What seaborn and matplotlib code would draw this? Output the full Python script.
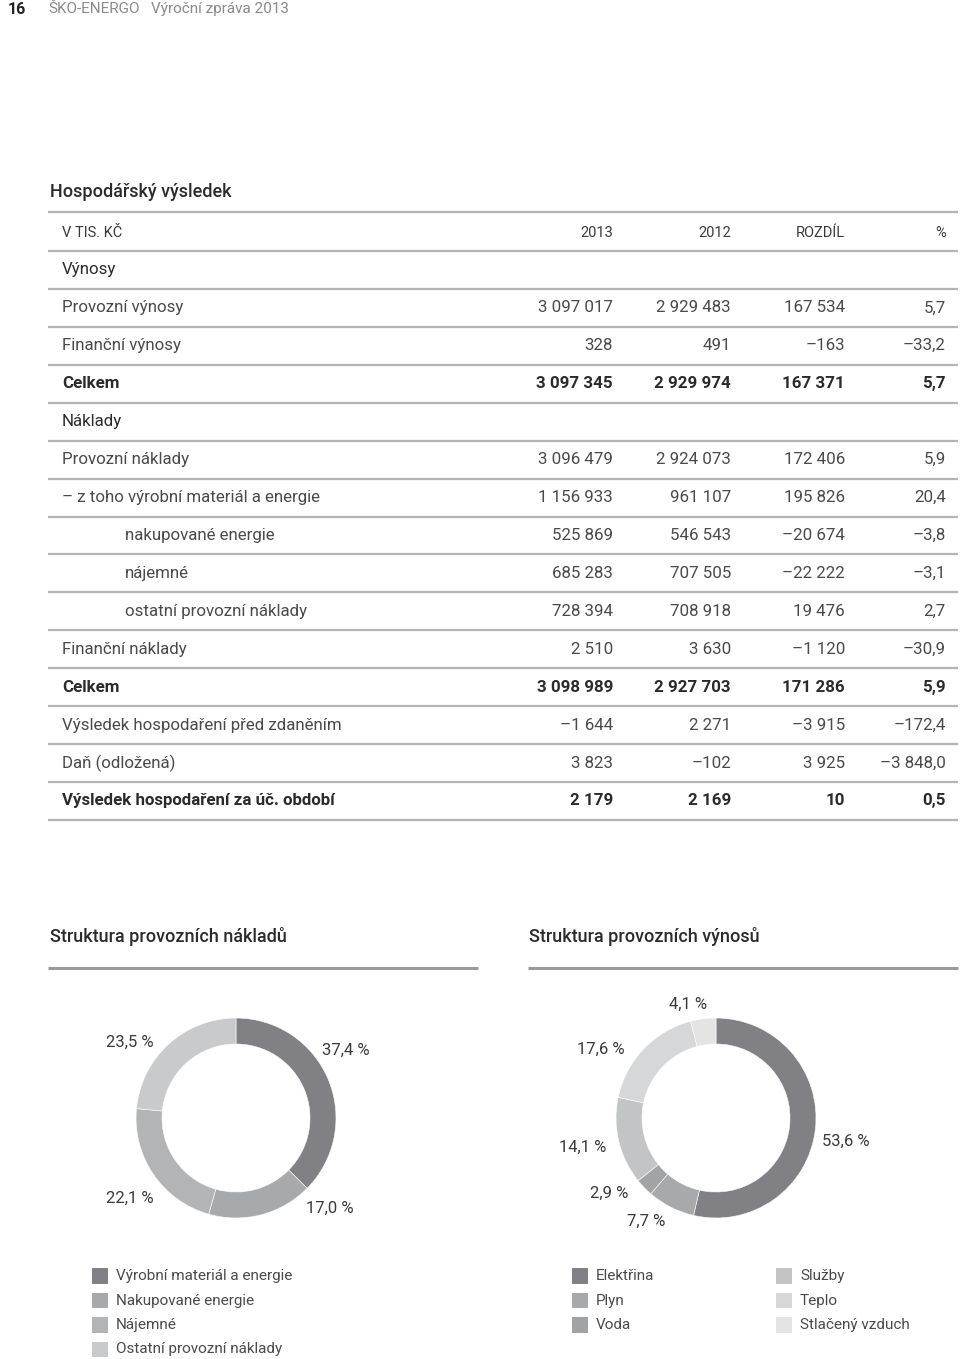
import matplotlib
matplotlib.use("Agg")
import matplotlib.pyplot as plt
import seaborn as sns

# ---------------- data ----------------
row_labels = ["Výnosy", "Provozní výnosy", "Finanční výnosy", "Celkem", "Náklady",
              "Provozní náklady", "– z toho výrobní materiál a energie", "nakupované energie",
              "nájemné", "ostatní provozní náklady", "Finanční náklady", "Celkem",
              "Výsledek hospodaření před zdaněním", "Daň (odložená)",
              "Výsledek hospodaření za úč. období"]
row_kind = ["section", "normal", "normal", "bold", "section", "normal", "normal", "indent",
            "indent", "indent", "normal", "bold", "normal", "normal", "bold"]
val_2013 = [None, 3097017, 328, 3097345, None, 3096479, 1156933, 525869, 685283, 728394,
            2510, 3098989, -1644, 3823, 2179]
val_2012 = [None, 2929483, 491, 2929974, None, 2924073, 961107, 546543, 707505, 708918,
            3630, 2927703, 2271, -102, 2169]
val_diff = [None, 167534, -163, 167371, None, 172406, 195826, -20674, -22222, 19476,
            -1120, 171286, -3915, 3925, 10]
val_pct = [None, 5.7, -33.2, 5.7, None, 5.9, 20.4, -3.8, -3.1, 2.7, -30.9, 5.9, -172.4,
           -3848.0, 0.5]
col_headers = ["2013", "2012", "ROZDÍL", "%"]

cost_labels = ["Výrobní materiál a energie", "Nakupované energie", "Nájemné",
               "Ostatní provozní náklady"]
cost_shares = [37.4, 17.0, 22.1, 23.5]
rev_labels = ["Elektřina", "Plyn", "Voda", "Služby", "Teplo", "Stlačený vzduch"]
rev_shares = [53.6, 7.7, 2.9, 14.1, 17.6, 4.1]

# ---------------- style ----------------
sns.set_theme(style="white")
plt.rcParams["font.family"] = ["Roboto", "DejaVu Sans"]

W, H = 960, 1359
fig = plt.figure(figsize=(W / 100, H / 100), dpi=100)
bg = fig.add_axes([0, 0, 1, 1])
bg.set_xlim(0, W)
bg.set_ylim(H, 0)
bg.axis("off")

DARK = "#2b2b2b"
TXT = "#4a4a4a"
LINE = "#b4b4b4"
FS = 12.2


def fmt_int(v):
    s = f"{abs(v):,}".replace(",", " ")
    return ("–" if v < 0 else "") + s


def fmt_pct(v):
    s = f"{abs(v):,.1f}".replace(",", " ").replace(".", ",")
    return ("–" if v < 0 else "") + s


# page header
bg.text(8, 9, "16", fontsize=11.5, fontweight="bold", color="#222", va="center", ha="left")
bg.text(48, 9, "ŠKO-ENERGO", fontsize=11, color="#8a8a8a", va="center", ha="left")
bg.text(151, 9, "Výroční zpráva 2013", fontsize=11, color="#8a8a8a", va="center", ha="left")

# title
bg.text(50, 192, "Hospodářský výsledek", fontsize=13, fontweight="medium", color=DARK,
        va="center", ha="left")
bg.hlines(212, 48, 958, color=LINE, lw=1.6)

# table header
col_x = [613, 731, 845, 946]
bg.text(62, 233, "V TIS. KČ", fontsize=10.5, color="#3a3a3a", va="center", ha="left")
for x, h in zip(col_x, col_headers):
    bg.text(x, 233, h, fontsize=10.5, color="#3a3a3a", va="center", ha="right")
bg.hlines(251, 48, 958, color=LINE, lw=1.6)

step = 37.93
top = 251
for i, lab in enumerate(row_labels):
    yc = top + step * (i + 0.5)
    kind = row_kind[i]
    weight = "bold" if kind == "bold" else "normal"
    color = DARK if kind in ("bold", "section") else TXT
    x0 = 125 if kind == "indent" else 62
    bg.text(x0, yc, lab, fontsize=FS, fontweight=weight, color=color, va="center", ha="left")
    if val_2013[i] is not None:
        vals = [fmt_int(val_2013[i]), fmt_int(val_2012[i]), fmt_int(val_diff[i]),
                fmt_pct(val_pct[i])]
        for x, v in zip(col_x, vals):
            bg.text(x, yc, v, fontsize=FS, fontweight=weight, color=color,
                    va="center", ha="right")
    bg.hlines(top + step * (i + 1), 48, 958, color=LINE, lw=1.6)

# chart subtitles
bg.text(50, 936, "Struktura provozních nákladů", fontsize=13, fontweight="medium",
        color=DARK, va="center", ha="left")
bg.text(529, 936, "Struktura provozních výnosů", fontsize=13, fontweight="medium",
        color=DARK, va="center", ha="left")
bg.hlines(968, 48, 478, color="#9a9a9a", lw=2.2)
bg.hlines(968, 528, 958, color="#9a9a9a", lw=2.2)

cost_colors = ["#808085", "#a8a9ab", "#b3b4b6", "#c9cacb"]
rev_colors = ["#808085", "#a8a9ab", "#a2a3a5", "#c3c4c5", "#d6d7d8", "#e4e4e5"]

cost_label_pos = [(1.10, 0.68), (0.94, -0.90), (-1.06, -0.80), (-1.06, 0.76)]
rev_label_pos = [(1.30, -0.23), (-0.70, -1.03), (-1.07, -0.75), (-1.33, -0.29),
                 (-1.15, 0.69), (-0.28, 1.14)]


def donut(cx, cy, shares, colors, label_pos):
    half = 150
    ax = fig.add_axes([(cx - half) / W, (H - (cy + half)) / H, 2 * half / W, 2 * half / H])
    ax.pie(shares, colors=colors, startangle=90, counterclock=False, radius=1.0,
           wedgeprops=dict(width=0.26, edgecolor="white", linewidth=0.4))
    ax.set_xlim(-1.5, 1.5)
    ax.set_ylim(-1.5, 1.5)
    ax.set_aspect("equal")
    ax.axis("off")
    for s, (dx, dy) in zip(shares, label_pos):
        ax.text(dx, dy, f"{s:.1f}".replace(".", ",") + " %", fontsize=12,
                color="#3a3a3a", ha="center", va="center")


donut(236, 1118, cost_shares, cost_colors, cost_label_pos)
donut(716, 1118, rev_shares, rev_colors, rev_label_pos)

# legends
leg_step = 24.5
leg_y0 = 1276


def legend_col(x, labels, colors):
    ys = [leg_y0 + leg_step * k for k in range(len(labels))]
    bg.scatter([x] * len(labels), ys, marker="s", s=130, c=colors, linewidths=0)
    for y, lab in zip(ys, labels):
        bg.text(x + 16, y, lab, fontsize=11, color=TXT, va="center", ha="left")


legend_col(100, cost_labels, cost_colors)
legend_col(580, rev_labels[:3], rev_colors[:3])
legend_col(784, rev_labels[3:], rev_colors[3:])

fig.savefig("out.png", dpi=100)
